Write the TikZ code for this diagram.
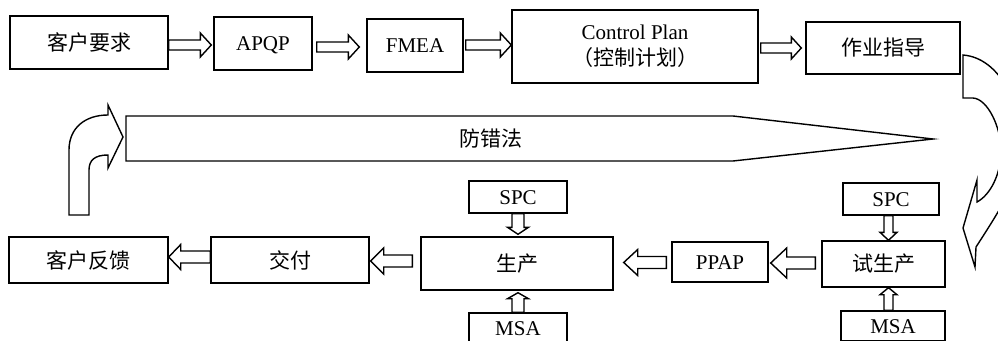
\documentclass[tikz,border=0pt]{standalone}
\usepackage{fontspec}
\setmainfont{Liberation Serif}
\newfontfamily\cjk{Noto Sans CJK SC}
\usetikzlibrary{calc}
\tikzset{
  box/.style={draw, line width=1.4pt, inner sep=0pt, align=center, font=\fontsize{21}{26}\selectfont},
  lat/.style={text height=14pt, text depth=0pt},
  barrow/.style={draw, line width=1.4pt, fill=white, line join=miter},
  lbl/.style={inner sep=0pt, font=\fontsize{21}{26}\selectfont}
}
% horizontal block arrow: start, tip, y, shaft half, head half, head length
\newcommand\harr[6]{%
  \path[barrow] let \p1=(#1), \p2=(#2), \p3=(0,#3), \n1={sign(\x2-\x1)}, \n2={\x2-\n1*#6} in
  ({\x1},{\y3+#4}) -- ({\n2},{\y3+#4}) -- ({\n2},{\y3+#5}) -- ({\x2},{\y3})
  -- ({\n2},{\y3-#5}) -- ({\n2},{\y3-#4}) -- ({\x1},{\y3-#4}) -- cycle;}
% vertical block arrow: start, tip, shaft half, head half, head length
\newcommand\varr[5]{%
  \path[barrow] let \p1=(#1), \p2=(#2), \n1={sign(\y2-\y1)}, \n2={\y2-\n1*#5} in
  ({\x1+#3},{\y1}) -- ({\x1+#3},{\n2}) -- ({\x1+#4},{\n2}) -- ({\x1},{\y2})
  -- ({\x1-#4},{\n2}) -- ({\x1-#3},{\n2}) -- ({\x1-#3},{\y1}) -- cycle;}
\begin{document}
\begin{tikzpicture}[x=1pt,y=-1pt]
\useasboundingbox (0,0) rectangle (998,340);
\clip (0,0) rectangle (998,340);
% top row
\node[box, minimum width=158, minimum height=53] (kh) at (89,42.5) {\cjk 客户要求};
\node[box, lat, minimum width=98, minimum height=53] (apqp) at (263,43.5) {APQP};
\node[box, lat, minimum width=96, minimum height=53] (fmea) at (415,45.5) {FMEA};
\node[box, minimum width=246, minimum height=73] (cp) at (635,46.5) {Control Plan\\{\cjk （控制计划）}};
\node[box, minimum width=154, minimum height=52] (zy) at (883,48) {\cjk 作业指导};
% bottom row
\node[box, minimum width=159, minimum height=46] (fb) at (88.5,260) {\cjk 客户反馈};
\node[box, minimum width=158, minimum height=46] (jf) at (290,260) {\cjk 交付};
\node[box, minimum width=192, minimum height=53] (sc) at (517,263.5) {\cjk 生产};
\node[box, lat, minimum width=98, minimum height=32] (spc1) at (518,197) {SPC};
\node[box, lat, minimum width=98, minimum height=30] (msa1) at (518,328) {MSA};
\node[box, lat, minimum width=96, minimum height=40] (ppap) at (720,262) {PPAP};
\node[box, minimum width=123, minimum height=46] (ssc) at (883.5,264) {\cjk 试生产};
\node[box, lat, minimum width=96, minimum height=32] (spc2) at (891,199) {SPC};
\node[box, lat, minimum width=104, minimum height=30] (msa2) at (893,326) {MSA};
% top arrows
\harr{kh.east}{[xshift=-2pt]apqp.west}{45}{5pt}{12pt}{11pt}
\harr{[xshift=4pt]apqp.east}{[xshift=-7pt]fmea.west}{47}{5pt}{12pt}{11pt}
\harr{[xshift=2pt]fmea.east}{cp.west}{45}{5pt}{12pt}{11pt}
\harr{[xshift=2pt]cp.east}{[xshift=-4pt]zy.west}{48}{5pt}{11pt}{10pt}
% bottom arrows
\harr{jf.west}{fb.east}{257}{6pt}{12.5pt}{12pt}
\harr{[xshift=-8pt]sc.west}{[xshift=1pt]jf.east}{261}{6pt}{13pt}{13pt}
\harr{[xshift=-5pt]ppap.west}{[xshift=10pt]sc.east}{262.5}{6pt}{13pt}{14pt}
\harr{[xshift=-6pt]ssc.west}{[xshift=2pt]ppap.east}{263}{6pt}{15pt}{16pt}
% vertical arrows
\varr{spc1.south}{[yshift=2pt]sc.north}{6pt}{10.5pt}{7pt}
\varr{msa1.north}{[yshift=-2pt]sc.south}{6pt}{10.5pt}{6pt}
\varr{[xshift=-2.5pt]spc2.south}{ssc.north}{4.5pt}{8.5pt}{8pt}
\varr{[xshift=-4.5pt]msa2.north}{ssc.south}{4.5pt}{8.5pt}{7pt}
% poka-yoke arrow
\draw[barrow] (126,116) -- (733,116) -- (933,139) -- (733,161) -- (126,161) -- cycle;
\node[lbl] (fcf) at (491,139) {\cjk 防错法};
% left curved arrow
\draw[barrow] (69,215) -- (69,150) .. controls (69,128) and (85,115) .. (108,115)
  -- (108,105) -- (123,137) -- (108,168) -- (108,155)
  .. controls (95,155) and (89,160) .. (89,170) -- (89,215) -- cycle;
% right curved arrow
\draw[barrow] (963,55) -- (963,98) -- (973,98)
  .. controls (988,99) and (1001,128) .. (1001,150)
  .. controls (1001,175) and (990,195) .. (977,202)
  -- (977,180) -- (963,228) -- (975,267) -- (976,247)
  .. controls (1000,210) and (1022,175) .. (1022,150)
  .. controls (1022,105) and (1000,58) .. (963,55) -- cycle;
\end{tikzpicture}
\end{document}
